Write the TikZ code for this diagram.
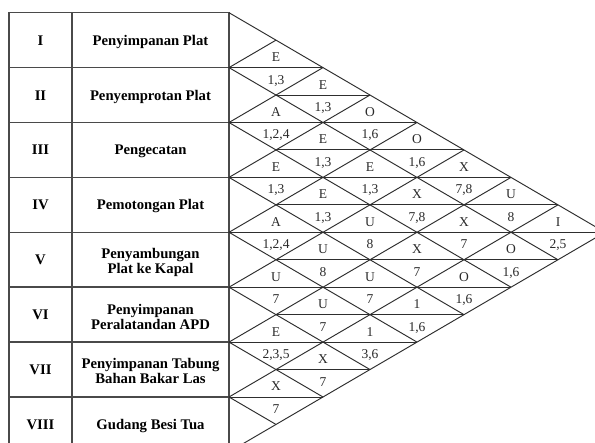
\documentclass[tikz,border=0pt]{standalone}
\usepackage{fontspec}
\setmainfont{Liberation Serif}
\definecolor{tblline}{HTML}{4A4A4A}
\definecolor{gridline}{HTML}{2E2E2E}
\definecolor{arctext}{HTML}{2A2A2A}
\newcommand\twoline[2]{\begin{tabular}[t]{@{}c@{}}#1\\#2\end{tabular}}
\begin{document}
\begin{tikzpicture}[x=1pt,y=-1pt,
  tbl/.style={draw=tblline,line width=1.4pt},
  gridln/.style={draw=gridline,line width=0.95pt},
  numlbl/.style={anchor=base,inner sep=0pt,font=\fontsize{14.7}{15}\selectfont\bfseries},
  namelbl/.style={anchor=base,inner sep=0pt,font=\fontsize{14.7}{15}\selectfont\bfseries},
  rel/.style={anchor=base,inner sep=0pt,text=arctext,font=\fontsize{13.5}{14}\selectfont},
  rsn/.style={anchor=base,inner sep=0pt,text=arctext,font=\fontsize{13.5}{14}\selectfont}]
\useasboundingbox (0,0) rectangle (595,443);
\fill[white] (0,0) rectangle (595,443);
\clip (0,0) rectangle (595,443);
% table
\draw[tbl] (9,12.7) rectangle (229,452.9);
\draw[tbl] (72,12.7) -- (72,452.9);
\foreach \k in {1,...,7}{
  \pgfmathsetmacro\yy{12.7+54.9*\k}
  \draw[tbl] (9,\yy) -- (229,\yy);
}
% diagonals of the relationship chart
\foreach \k in {0,...,8}{
  \pgfmathsetmacro\ya{12.7+54.9*\k}
  \pgfmathsetmacro\xb{229+47*(8-\k)}
  \pgfmathsetmacro\yb{\ya+27.45*(8-\k)}
  \pgfmathsetmacro\xc{229+47*\k}
  \pgfmathsetmacro\yc{12.7+27.45*\k}
  \draw[gridln] (\xb,\yb) -- (229,\ya) -- (\xc,\yc);
}
% horizontal lines through diamonds
\foreach \m in {2,...,14}{
  \pgfmathsetmacro\yy{12.7+27.45*\m}
  \pgfmathsetmacro\xs{229+47*mod(\m,2)}
  \pgfmathsetmacro\xe{229+47*min(\m,16-\m)}
  \draw[gridln] (\xs,\yy) -- (\xe,\yy);
}
% department labels
\foreach \k/\r in {1/I,2/II,3/III,4/IV,5/V,6/VI,7/VII,8/VIII}{
  \pgfmathsetmacro\yy{12.7+54.9*(\k-0.5)+5}
  \node[numlbl] (num\k) at (40.5,\yy) {\r};
}
\node[namelbl] (name1) at (150.5,45.15) {Penyimpanan Plat};
\node[namelbl] (name2) at (150.5,100.05) {Penyemprotan Plat};
\node[namelbl] (name3) at (150.5,154.95) {Pengecatan};
\node[namelbl] (name4) at (150.5,209.85) {Pemotongan Plat};
\node[namelbl] (name5) at (150.5,258.75) {\twoline{Penyambungan}{Plat ke Kapal}};
\node[namelbl] (name6) at (150.5,314.65) {\twoline{Penyimpanan}{Peralatandan APD}};
\node[namelbl] (name7) at (150.5,368.55) {\twoline{Penyimpanan Tabung}{Bahan Bakar Las}};
\node[namelbl] (name8) at (150.5,429.45) {Gudang Besi Tua};
% relationship entries: i, j, degree, reason
\foreach \i/\j/\d/\s in {
  1/2/E/{1,3}, 2/3/A/{1,2,4}, 3/4/E/{1,3}, 4/5/A/{1,2,4}, 5/6/U/7, 6/7/E/{2,3,5}, 7/8/X/7,
  1/3/E/{1,3}, 2/4/E/{1,3}, 3/5/E/{1,3}, 4/6/U/8, 5/7/U/7, 6/8/X/7,
  1/4/O/{1,6}, 2/5/E/{1,3}, 3/6/U/8, 4/7/U/7, 5/8/1/{3,6},
  1/5/O/{1,6}, 2/6/X/{7,8}, 3/7/X/7, 4/8/1/{1,6},
  1/6/X/{7,8}, 2/7/X/7, 3/8/O/{1,6},
  1/7/U/8, 2/8/O/{1,6},
  1/8/I/{2,5}}{
  \pgfmathsetmacro\px{229+47*(\j-\i)}
  \pgfmathsetmacro\pa{12.7+27.45*(\i+\j-1)-6}
  \pgfmathsetmacro\pb{12.7+27.45*(\i+\j-1)+16.5}
  \node[rel] (d\i\j) at (\px,\pa) {\d};
  \node[rsn] (s\i\j) at (\px,\pb) {\s};
}
\end{tikzpicture}
\end{document}
